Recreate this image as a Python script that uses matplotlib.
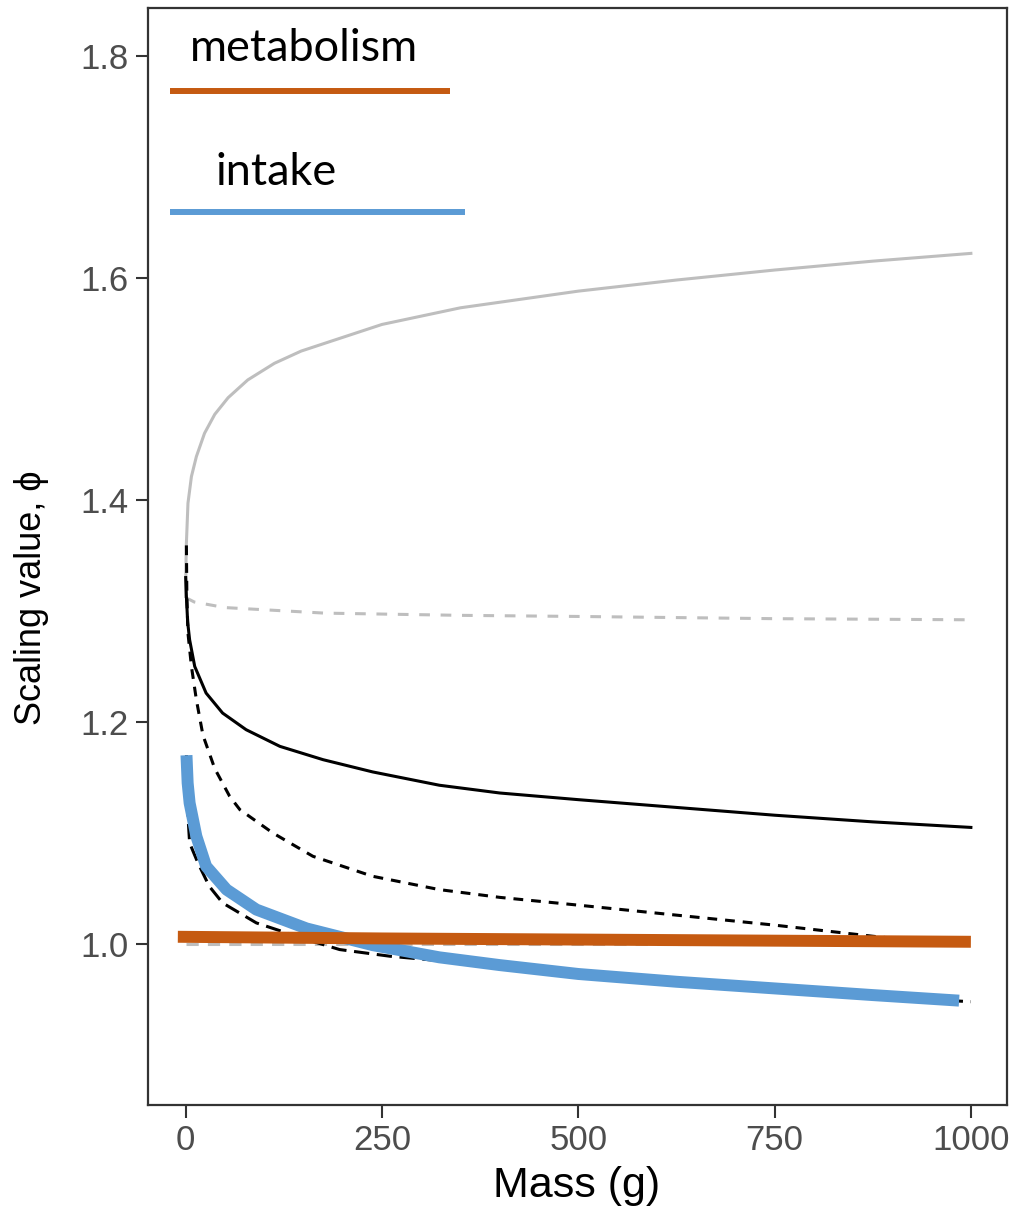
import matplotlib
matplotlib.use('Agg')
import matplotlib.pyplot as plt

# values (mass in g, scaling value phi)
gray_solid_x = [0, 0.3, 0.9, 2.9, 7.3, 13.6, 24, 37, 54, 79, 113, 147, 177, 250, 350, 500, 625, 750, 875, 1000]
gray_solid_y = [1.313, 1.34, 1.361, 1.397, 1.421, 1.439, 1.460, 1.477, 1.492, 1.508, 1.523, 1.534, 1.541, 1.558, 1.573, 1.588, 1.598, 1.607, 1.615, 1.622]

gray_dash_x = [0, 11, 50, 177, 350, 500, 750, 1000]
gray_dash_y = [1.312, 1.308, 1.303, 1.298, 1.296, 1.295, 1.293, 1.292]

black_solid_x = [0, 0.9, 2.5, 5, 11.5, 26, 47, 77, 120, 175, 238, 323, 400, 500, 625, 750, 875, 1000]
black_solid_y = [1.33, 1.313, 1.29, 1.274, 1.250, 1.226, 1.208, 1.193, 1.178, 1.166, 1.155, 1.143, 1.136, 1.130, 1.123, 1.116, 1.110, 1.105]

black_dot_x = [0.9, 1.5, 2.9, 7.3, 13.6, 22, 37, 56, 69, 111, 162, 238, 323, 400, 500, 625, 750, 875, 1000]
black_dot_y = [1.359, 1.313, 1.280, 1.250, 1.220, 1.188, 1.158, 1.133, 1.121, 1.100, 1.079, 1.061, 1.049, 1.042, 1.035, 1.026, 1.017, 1.007, 0.998]

black_long_x = [1, 2.5, 5, 15.6, 30, 47, 90, 154, 196, 260, 323, 400, 500, 625, 750, 875, 1000]
black_long_y = [1.17, 1.12, 1.091, 1.073, 1.052, 1.037, 1.019, 1.004, 0.995, 0.989, 0.985, 0.979, 0.971, 0.965, 0.959, 0.953, 0.948]

gray_one_x = [0, 1000]
gray_one_y = [1.0, 1.0]

intake_x = [1, 2.5, 5, 13.6, 26, 52, 90, 154, 238, 323, 400, 500, 625, 750, 875, 985]
intake_y = [1.170, 1.145, 1.127, 1.097, 1.070, 1.049, 1.031, 1.014, 0.999, 0.988, 0.981, 0.973, 0.966, 0.960, 0.954, 0.949]

metab_x = [-10, 250, 500, 750, 1000]
metab_y = [1.0065, 1.005, 1.004, 1.003, 1.002]

xticks = [0, 250, 500, 750, 1000]
yticks = [1.0, 1.2, 1.4, 1.6, 1.8]

orange = '#C55A11'
blue = '#5B9BD5'
grey = '#BEBEBE'

plt.rcParams['font.family'] = ['Liberation Sans', 'DejaVu Sans']

fig = plt.figure(figsize=(10.13, 12.10), dpi=100)
ax = fig.add_axes([148 / 1013, 1 - 1105 / 1210, (1007 - 148) / 1013, (1105 - 8) / 1210])

ax.plot(gray_one_x, gray_one_y, color=grey, lw=2.2, dashes=(4, 3))
ax.plot(gray_solid_x, gray_solid_y, color=grey, lw=2.2)
ax.plot(gray_dash_x, gray_dash_y, color=grey, lw=2.2, dashes=(3.5, 3.5))
ax.plot(black_dot_x, black_dot_y, color='black', lw=2.2, dashes=(3.2, 2.6))
ax.plot(black_solid_x, black_solid_y, color='black', lw=2.2)
ax.plot(black_long_x, black_long_y, color='black', lw=2.2, dashes=(5, 2.5))
ax.plot(intake_x, intake_y, color=blue, lw=8.6, solid_capstyle='butt')
ax.plot(metab_x, metab_y, color=orange, lw=8.6, solid_capstyle='butt')

# hand-drawn legend
ax.plot([-20, 336], [1.768, 1.768], color=orange, lw=4.3, solid_capstyle='butt')
ax.plot([-20, 356], [1.659, 1.659], color=blue, lw=4.3, solid_capstyle='butt')
ax.text(5, 1.795, 'metabolism', fontsize=32.5, family=['Lato', 'DejaVu Sans'], va='baseline', ha='left')
ax.text(38, 1.684, 'intake', fontsize=32.5, family=['Lato', 'DejaVu Sans'], va='baseline', ha='left')

ax.set_xlim(-48, 1046)
ax.set_ylim(0.855, 1.843)
ax.set_xticks(xticks)
ax.set_xticklabels([str(t) for t in xticks])
ax.set_yticks(yticks)
ax.set_yticklabels(['%.1f' % t for t in yticks])
ax.tick_params(length=9, width=1.5, color='#333333', labelcolor='#4D4D4D', labelsize=25, pad=5)
for s in ax.spines.values():
    s.set_color('#333333')
    s.set_linewidth(1.6)

fig.text(577 / 1013, 1 - 1186 / 1210, 'Mass (g)', fontsize=31, ha='center', va='center')
fig.text(32 / 1013, 1 - 598 / 1210, 'Scaling value, \u03d5', fontsize=26, rotation=90, ha='center', va='center')

plt.savefig('out.png', dpi=100)
plt.close('all')
